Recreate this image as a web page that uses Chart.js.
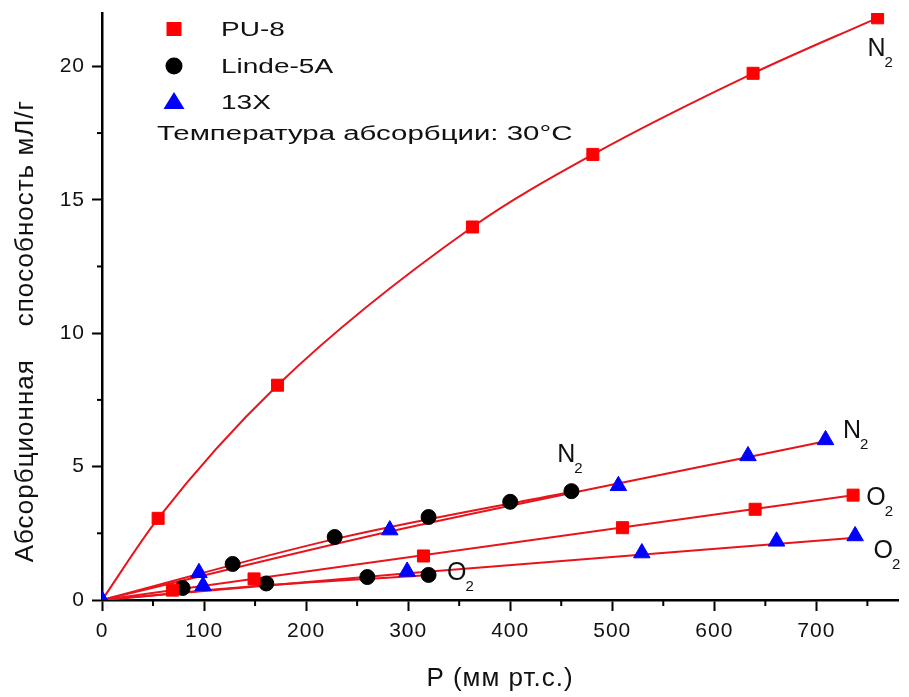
<!DOCTYPE html>
<html>
<head>
<meta charset="utf-8">
<script src="https://cdn.jsdelivr.net/npm/chart.js@4.4.1/dist/chart.umd.min.js"></script>
<style>
html, body { margin: 0; padding: 0; background: #fff; }
canvas { display: block; }
</style>
</head>
<body>
<canvas id="chart" width="909" height="697"></canvas>
<script>
// measured points, P (mm Hg) vs capacity (ml/g)
var pu8N2X = [55, 172, 363, 481, 638, 760];
var pu8N2Y = [3.06, 8.05, 13.98, 16.7, 19.74, 21.82];
var pu8O2X = [69, 149, 315, 510, 640, 736];
var pu8O2Y = [0.37, 0.79, 1.65, 2.71, 3.4, 3.93];
var lindeN2X = [128, 228, 320, 400, 460];
var lindeN2Y = [1.35, 2.36, 3.11, 3.68, 4.08];
var lindeO2X = [79, 161, 260, 320];
var lindeO2Y = [0.45, 0.62, 0.86, 0.94];
var x13N2X = [0, 95, 282, 506, 633, 709];
var x13N2Y = [0, 1.02, 2.62, 4.28, 5.4, 6.0];
var x13O2X = [99, 299, 529, 661, 738];
var x13O2Y = [0.53, 1.07, 1.76, 2.2, 2.4];

// fitted lines
var fitPu8N2X = [0].concat(pu8N2X);
var fitPu8N2Y = [0].concat(pu8N2Y);
var fitPu8O2X = [0, 736];
var fitPu8O2Y = [0, 3.93];
var fitLindeN2X = [0, 230, 460];
var fitLindeN2Y = [0, 2.3, 4.06];
var fitLindeO2X = [0, 160, 320];
var fitLindeO2Y = [0, 0.55, 0.93];
var fit13N2X = [0, 280, 709];
var fit13N2Y = [0, 2.55, 5.95];
var fit13O2X = [0, 300, 738];
var fit13O2Y = [0, 1.0, 2.33];

var seriesNames = ["PU-8", "Linde-5A", "13X"];
var xTitle = "P (мм рт.с.)";
// trailing spaces push the centred title down a bit, like the original
var yTitle = "Абсорбционная    способность мЛ/г      ";
var tempNote = "Температура абсорбции: 30°C";
var xMinor = [50, 150, 250, 350, 450, 550, 650, 750];
var yMinor = [2.5, 7.5, 12.5, 17.5];

var font = "'Liberation Sans', Arial, sans-serif";
var red = "#ff0000";
var lineRed = "#e8141c";
var blue = "#0000ff";

function pts(xs, ys) {
    return xs.map(function (x, i) { return { x: x, y: ys[i] }; });
}

function marker(label, xs, ys, style, r, color) {
    return {
        label: label,
        data: pts(xs, ys),
        pointStyle: style,
        pointRadius: r,
        backgroundColor: color,
        borderColor: color,
        borderWidth: 1,
        showLine: false,
        order: 0
    };
}

function fit(xs, ys) {
    return {
        data: pts(xs, ys),
        showLine: true,
        pointRadius: 0,
        borderColor: lineRed,
        borderWidth: 2,
        cubicInterpolationMode: "monotone",
        order: 1
    };
}

// labels N2 / O2 next to curves (data coords)
var curveLabels = [
    { x: 750, y: 20.4, t: "N" },
    { x: 446, y: 5.17, t: "N" },
    { x: 726, y: 6.07, t: "N" },
    { x: 749, y: 3.56, t: "O" },
    { x: 756, y: 1.57, t: "O" },
    { x: 338, y: 0.75, t: "O" }
];

function stretchText(ctx, text, x, y, sx) {
    ctx.save();
    ctx.translate(x, y);
    ctx.scale(sx, 1);
    ctx.fillText(text, 0, 0);
    ctx.restore();
}

function drawMark(ctx, style, x, y, color) {
    ctx.fillStyle = color;
    ctx.beginPath();
    if (style == "rect") {
        ctx.rect(x - 7.5, y - 7, 15, 14);
    } else if (style == "circle") {
        ctx.arc(x, y, 8.5, 0, Math.PI * 2);
    } else {
        ctx.moveTo(x, y - 10);
        ctx.lineTo(x + 10.5, y + 7);
        ctx.lineTo(x - 10.5, y + 7);
        ctx.closePath();
    }
    ctx.fill();
}

var extras = {
    id: "extras",
    beforeDraw: function (chart) {
        chart.ctx.letterSpacing = "1px";
    },
    afterDraw: function (chart) {
        var ctx = chart.ctx;
        var xs = chart.scales.x, ys = chart.scales.y;
        var area = chart.chartArea;
        ctx.save();
        ctx.letterSpacing = "0px";

        // minor ticks
        ctx.strokeStyle = "#000";
        ctx.lineWidth = 2;
        xMinor.forEach(function (v) {
            var px = xs.getPixelForValue(v);
            ctx.beginPath();
            ctx.moveTo(px, area.bottom);
            ctx.lineTo(px, area.bottom + 6);
            ctx.stroke();
        });
        yMinor.forEach(function (v) {
            var py = ys.getPixelForValue(v);
            ctx.beginPath();
            ctx.moveTo(area.left, py);
            ctx.lineTo(area.left - 5, py);
            ctx.stroke();
        });

        // legend
        var styles = ["rect", "circle", "triangle"];
        var colors = [red, "#000", blue];
        var rows = [29, 66, 102];
        ctx.font = "20px " + font;
        ctx.textBaseline = "middle";
        ctx.textAlign = "left";
        for (var i = 0; i < seriesNames.length; i++) {
            drawMark(ctx, styles[i], 174, rows[i], colors[i]);
            ctx.fillStyle = "#111";
            stretchText(ctx, seriesNames[i], 221, rows[i] + 1, 1.4);
        }
        ctx.textBaseline = "alphabetic";
        stretchText(ctx, tempNote, 157, 140, 1.47);

        // N2 / O2 labels
        curveLabels.forEach(function (l) {
            var px = xs.getPixelForValue(l.x);
            var py = ys.getPixelForValue(l.y);
            ctx.fillStyle = "#111";
            ctx.font = "25px " + font;
            ctx.fillText(l.t, px, py);
            var w = ctx.measureText(l.t).width;
            ctx.font = "15px " + font;
            ctx.fillText("2", px + w - 1, py + 11);
        });
        ctx.restore();
    }
};

new Chart("chart", {
    type: "scatter",
    data: {
        datasets: [
            marker(seriesNames[0], pu8N2X, pu8N2Y, "rect", 8.5, red),
            marker(seriesNames[0], pu8O2X, pu8O2Y, "rect", 8.5, red),
            marker(seriesNames[2], x13N2X, x13N2Y, "triangle", 9.5, blue),
            marker(seriesNames[2], x13O2X, x13O2Y, "triangle", 9.5, blue),
            marker(seriesNames[1], lindeN2X, lindeN2Y, "circle", 7.5, "#000"),
            marker(seriesNames[1], lindeO2X, lindeO2Y, "circle", 7.5, "#000"),
            fit(fitPu8N2X, fitPu8N2Y),
            fit(fitPu8O2X, fitPu8O2Y),
            fit(fitLindeN2X, fitLindeN2Y),
            fit(fitLindeO2X, fitLindeO2Y),
            fit(fit13N2X, fit13N2Y),
            fit(fit13O2X, fit13O2Y)
        ]
    },
    options: {
        responsive: false,
        animation: false,
        events: [],
        layout: {
            padding: { top: 13, right: 11, left: 0, bottom: 0 }
        },
        plugins: {
            legend: { display: false },
            tooltip: { enabled: false }
        },
        scales: {
            x: {
                type: "linear",
                min: 0,
                max: 780,
                ticks: {
                    stepSize: 100,
                    includeBounds: false,
                    maxRotation: 0,
                    padding: 8,
                    color: "#111",
                    font: { family: font, size: 21 }
                },
                grid: {
                    drawOnChartArea: false,
                    tickLength: 11,
                    tickColor: "#000",
                    tickWidth: 2
                },
                border: { color: "#000", width: 2.5 },
                title: {
                    display: true,
                    text: xTitle,
                    color: "#111",
                    font: { family: font, size: 26 },
                    padding: { top: 0, bottom: 3 }
                },
                afterFit: function (s) {
                    s.height = 97;
                    s.paddingLeft = 0;
                    s.paddingRight = 0;
                }
            },
            y: {
                type: "linear",
                min: 0,
                max: 22,
                ticks: {
                    stepSize: 5,
                    includeBounds: false,
                    padding: 7,
                    color: "#111",
                    font: { family: font, size: 21 }
                },
                grid: {
                    drawOnChartArea: false,
                    tickLength: 10,
                    tickColor: "#000",
                    tickWidth: 2
                },
                border: { color: "#000", width: 2.5 },
                title: {
                    display: true,
                    text: yTitle,
                    color: "#111",
                    font: { family: font, size: 26 },
                    padding: { top: 10, bottom: 0 }
                },
                afterFit: function (s) {
                    s.width = 102;
                    s.paddingTop = 0;
                    s.paddingBottom = 0;
                }
            }
        }
    },
    plugins: [extras]
});
</script>
</body>
</html>
